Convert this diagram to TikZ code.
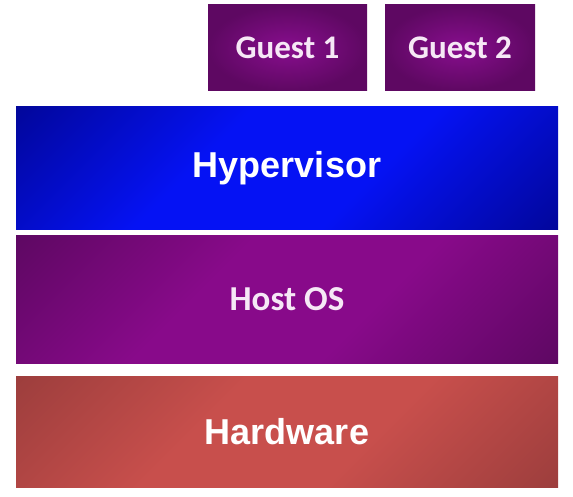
\documentclass[tikz,border=0pt]{standalone}
\usepackage{fontspec}
\setmainfont{Liberation Sans}
\newfontfamily\calfont{Carlito}
\usetikzlibrary{positioning}

\definecolor{layerdark}{HTML}{000070}
\definecolor{layerlight}{HTML}{0010F0}
\definecolor{hyperdark}{HTML}{000068}
\definecolor{hyperlight}{HTML}{0512F4}
\definecolor{hostdark}{HTML}{46064C}
\definecolor{hostlight}{HTML}{880A8A}
\definecolor{hwdark}{HTML}{843434}
\definecolor{hwlight}{HTML}{C84F4C}
\definecolor{guestdark}{HTML}{5E0862}
\definecolor{guestlight}{HTML}{880E8E}
\definecolor{softwhite}{HTML}{F6E8F6}

\pgfdeclareverticalshading[layerdark,layerlight]{layershade}{100bp}{%
  color(0bp)=(layerdark); color(40bp)=(layerlight);
  color(60bp)=(layerlight); color(100bp)=(layerdark)}

\begin{document}
\begin{tikzpicture}[
  x=1pt,y=-1pt,
  layer/.style={rectangle,inner sep=0pt,outer sep=0pt,
    minimum width=542pt,shading=layershade,shading angle=45,
    text=white,font=\bfseries\fontsize{36}{40}\selectfont},
  guest/.style={rectangle,inner sep=0pt,outer sep=0pt,
    minimum height=86pt,inner color=guestlight,outer color=guestdark,
    text=softwhite,font=\calfont\bfseries\fontsize{33}{36}\selectfont}
]
  \useasboundingbox (0,0) rectangle (573,497);

  \node[layer,minimum height=111pt,
    /utils/exec={\colorlet{layerdark}{hwdark}\colorlet{layerlight}{hwlight}}]
    (hardware) at (287,431.5) {Hardware};
  \node[layer,minimum height=127pt,above=13pt of hardware,
    text=softwhite,font=\calfont\bfseries\fontsize{35}{38}\selectfont,
    /utils/exec={\colorlet{layerdark}{hostdark}\colorlet{layerlight}{hostlight}}]
    (hostos) {Host OS};
  \node[layer,minimum height=123pt,above=6pt of hostos,
    /utils/exec={\colorlet{layerdark}{hyperdark}\colorlet{layerlight}{hyperlight}}]
    (hypervisor) {Hypervisor};

  \node[guest,minimum width=150pt,anchor=south east,
    above left=16pt and 23pt of hypervisor.north east] (guest2) {Guest 2};
  \node[guest,minimum width=159pt,left=18pt of guest2] (guest1) {Guest 1};
\end{tikzpicture}
\end{document}
